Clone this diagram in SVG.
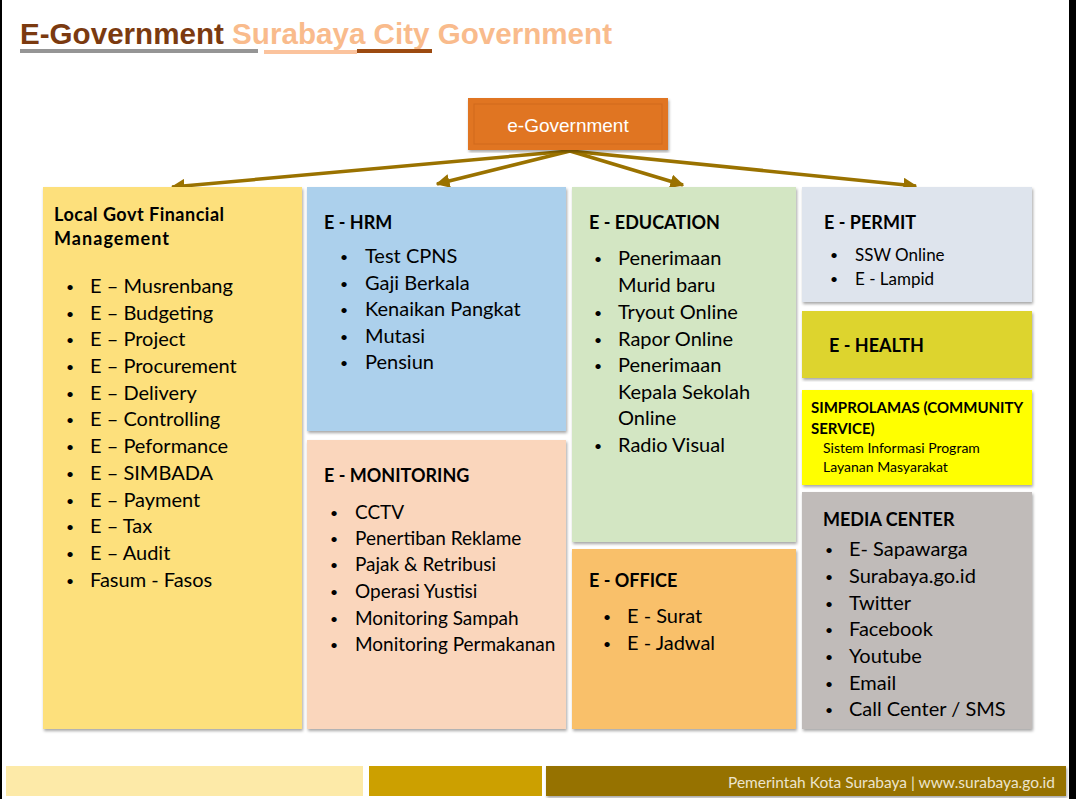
<svg xmlns="http://www.w3.org/2000/svg" width="1076" height="799" viewBox="0 0 1076 799">
<defs>
<filter id="sh" x="-5%" y="-5%" width="110%" height="110%">
<feDropShadow dx="1" dy="2" stdDeviation="1.5" flood-color="#000" flood-opacity="0.35"/>
</filter>
<marker id="ah" viewBox="0 0 10 10" refX="9" refY="5" markerWidth="4" markerHeight="4" orient="auto" markerUnits="strokeWidth">
<path d="M0,0 L10,5 L0,10 z" fill="#9a7200"/>
</marker>
<style>
.t{font-family:Lato,"Open Sans",sans-serif;fill:#000}
.h{font-weight:bold;font-size:18px}
.i{font-size:20px}
.s{font-size:19px}
.p{font-size:17px}
.d{font-size:14px}
.c{stroke:#9a7200;stroke-width:3.5;fill:none;marker-end:url(#ah)}
</style>
</defs>
<rect width="1076" height="799" fill="#fff"/>
<rect x="1069" y="0" width="7" height="799" fill="#000"/>
<rect x="0" y="0" width="2" height="799" fill="#000"/>

<g id="title">
<text x="20" y="44" font-family="'Liberation Sans',Arial,sans-serif" font-weight="bold" font-size="29.5" textLength="592" lengthAdjust="spacingAndGlyphs"><tspan fill="#7b3a10">E-Government</tspan><tspan fill="#f9bb8c"> Surabaya City Government</tspan></text>
<rect x="20" y="49" width="238" height="4" fill="#959595"/>
<rect x="264" y="50" width="93" height="4" fill="#fbc39d"/>
<rect x="357" y="49" width="75" height="4" fill="#9c4a10"/>
</g>

<g id="connectors">
<line class="c" x1="570" y1="151" x2="172" y2="187"/>
<line class="c" x1="570" y1="151" x2="437" y2="184"/>
<line class="c" x1="570" y1="151" x2="683" y2="185"/>
<line class="c" x1="570" y1="151" x2="916" y2="186"/>
</g>

<g id="egov">
<rect x="468" y="98" width="200" height="52" fill="#e07420" filter="url(#sh)"/>
<rect x="474" y="104" width="188" height="40" fill="none" stroke="#d06a1c" stroke-width="1"/>
<text x="568" y="132" text-anchor="middle" font-family="'Liberation Sans',Arial,sans-serif" font-size="19" fill="#fff">e-Government</text>
</g>

<g id="finance">
<rect x="43" y="187" width="259" height="542" fill="#fde07b" filter="url(#sh)"/>
<text class="t h" x="54" y="221" textLength="170">Local Govt Financial</text>
<text class="t h" x="54" y="245" textLength="115">Management</text>
<g class="t i">
<text class="d" x="66" y="292">•</text><text x="90" y="293">E – Musrenbang</text>
<text class="d" x="66" y="319">•</text><text x="90" y="320">E – Budgeting</text>
<text class="d" x="66" y="345">•</text><text x="90" y="346">E – Project</text>
<text class="d" x="66" y="372">•</text><text x="90" y="373">E – Procurement</text>
<text class="d" x="66" y="399">•</text><text x="90" y="400">E – Delivery</text>
<text class="d" x="66" y="425">•</text><text x="90" y="426">E – Controlling</text>
<text class="d" x="66" y="452">•</text><text x="90" y="453">E – Peformance</text>
<text class="d" x="66" y="479">•</text><text x="90" y="480">E – SIMBADA</text>
<text class="d" x="66" y="506">•</text><text x="90" y="507">E – Payment</text>
<text class="d" x="66" y="532">•</text><text x="90" y="533">E – Tax</text>
<text class="d" x="66" y="559">•</text><text x="90" y="560">E – Audit</text>
<text class="d" x="66" y="586">•</text><text x="90" y="587">Fasum - Fasos</text>
</g>
</g>

<g id="hrm">
<rect x="307" y="187" width="259" height="244" fill="#acd0ec" filter="url(#sh)"/>
<text class="t h" x="324" y="229">E - HRM</text>
<g class="t i">
<text class="d" x="340" y="262">•</text><text x="365" y="263">Test CPNS</text>
<text class="d" x="340" y="289">•</text><text x="365" y="290">Gaji Berkala</text>
<text class="d" x="340" y="315">•</text><text x="365" y="316">Kenaikan Pangkat</text>
<text class="d" x="340" y="342">•</text><text x="365" y="343">Mutasi</text>
<text class="d" x="340" y="368">•</text><text x="365" y="369">Pensiun</text>
</g>
</g>

<g id="monitoring">
<rect x="307" y="440" width="259" height="289" fill="#fad6bc" filter="url(#sh)"/>
<text class="t h" x="324" y="482">E - MONITORING</text>
<g class="t s">
<text class="d" x="330" y="518">•</text><text x="355" y="519">CCTV</text>
<text class="d" x="330" y="544">•</text><text x="355" y="545">Penertiban Reklame</text>
<text class="d" x="330" y="570">•</text><text x="355" y="571">Pajak &amp; Retribusi</text>
<text class="d" x="330" y="597">•</text><text x="355" y="598">Operasi Yustisi</text>
<text class="d" x="330" y="624">•</text><text x="355" y="625">Monitoring Sampah</text>
<text class="d" x="330" y="650">•</text><text x="355" y="651">Monitoring Permakanan</text>
</g>
</g>

<g id="education">
<rect x="572" y="187" width="224" height="355" fill="#d3e6c3" filter="url(#sh)"/>
<text class="t h" x="589" y="229">E - EDUCATION</text>
<g class="t i">
<text class="d" x="594" y="264">•</text><text x="618" y="265">Penerimaan</text>
<text x="618" y="292">Murid baru</text>
<text class="d" x="594" y="318">•</text><text x="618" y="319">Tryout Online</text>
<text class="d" x="594" y="345">•</text><text x="618" y="346">Rapor Online</text>
<text class="d" x="594" y="371">•</text><text x="618" y="372">Penerimaan</text>
<text x="618" y="399">Kepala Sekolah</text>
<text x="618" y="425">Online</text>
<text class="d" x="594" y="451">•</text><text x="618" y="452">Radio Visual</text>
</g>
</g>

<g id="office">
<rect x="572" y="549" width="224" height="180" fill="#f9c06a" filter="url(#sh)"/>
<text class="t h" x="589" y="587">E - OFFICE</text>
<g class="t i">
<text class="d" x="603" y="622">•</text><text x="627" y="623">E - Surat</text>
<text class="d" x="603" y="649">•</text><text x="627" y="650">E - Jadwal</text>
</g>
</g>

<g id="permit">
<rect x="802" y="187" width="230" height="115" fill="#dee4ed" filter="url(#sh)"/>
<text class="t h" x="824" y="229">E - PERMIT</text>
<g class="t p">
<text class="d" x="830" y="260">•</text><text x="855" y="261">SSW Online</text>
<text class="d" x="830" y="284">•</text><text x="855" y="285">E - Lampid</text>
</g>
</g>

<g id="health">
<rect x="802" y="311" width="230" height="67" fill="#ddd42e" filter="url(#sh)"/>
<text class="t h" x="829" y="352">E - HEALTH</text>
</g>

<g id="simprolamas">
<rect x="802" y="390" width="230" height="95" fill="#ffff00" filter="url(#sh)"/>
<text class="t" x="811" y="413" font-weight="bold" font-size="15">SIMPROLAMAS (COMMUNITY</text>
<text class="t" x="811" y="434" font-weight="bold" font-size="15">SERVICE)</text>
<text class="t" x="823" y="453" font-size="14" fill="#333">Sistem Informasi Program</text>
<text class="t" x="823" y="472" font-size="14" fill="#333">Layanan Masyarakat</text>
</g>

<g id="media">
<rect x="802" y="492" width="230" height="237" fill="#c0bbb9" filter="url(#sh)"/>
<text class="t h" x="823" y="526">MEDIA CENTER</text>
<g class="t i">
<text class="d" x="825" y="555">•</text><text x="849" y="556">E- Sapawarga</text>
<text class="d" x="825" y="582">•</text><text x="849" y="583">Surabaya.go.id</text>
<text class="d" x="825" y="609">•</text><text x="849" y="610">Twitter</text>
<text class="d" x="825" y="635">•</text><text x="849" y="636">Facebook</text>
<text class="d" x="825" y="662">•</text><text x="849" y="663">Youtube</text>
<text class="d" x="825" y="689">•</text><text x="849" y="690">Email</text>
<text class="d" x="825" y="715">•</text><text x="849" y="716">Call Center / SMS</text>
</g>
</g>

<g id="footer">
<rect x="6" y="766" width="357" height="30" fill="#fdeaa8"/>
<rect x="369" y="766" width="173" height="30" fill="#cca000"/>
<rect x="546" y="766" width="520" height="30" fill="#967200" filter="url(#sh)"/>
<text x="728" y="788" font-family="Lato,sans-serif" font-size="15" fill="#ece4cc" textLength="327" lengthAdjust="spacingAndGlyphs">Pemerintah Kota Surabaya | www.surabaya.go.id</text>
</g>
</svg>
